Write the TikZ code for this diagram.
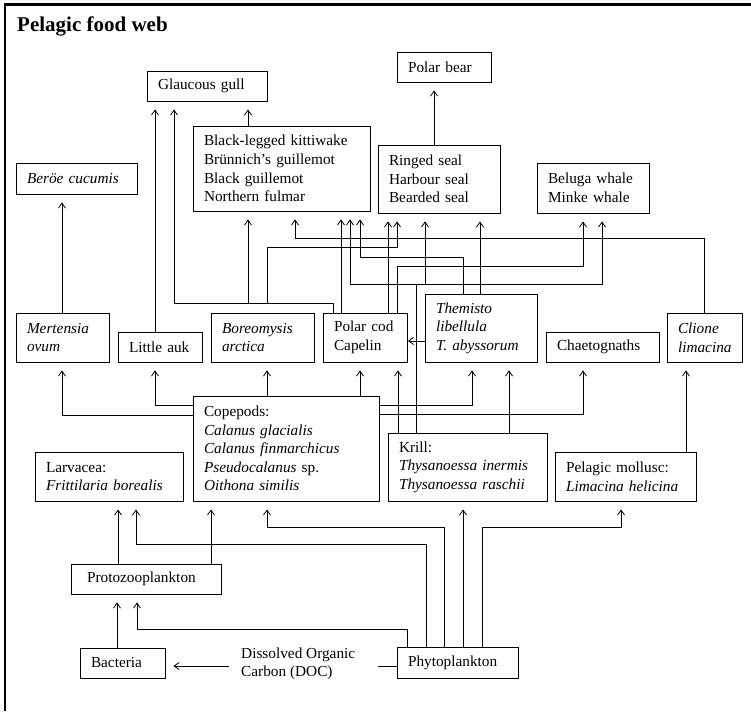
\documentclass[tikz,border=0pt]{standalone}
\usepackage{fontspec}
\setmainfont{Liberation Serif}
\usetikzlibrary{arrows.meta,calc}
\newcommand{\fsz}{\fontsize{15.3}{18.6}\selectfont}
\begin{document}
\begin{tikzpicture}[x=1pt,y=-1pt,
  box/.style={draw, line width=0.8pt, inner xsep=11pt, inner ysep=1pt, align=left, font=\fsz},
  sz/.style 2 args={text width=#1pt, minimum height=#2pt},
  arr/.style={line width=0.8pt, -{Straight Barb[length=5pt,width=7pt]}, shorten >=8pt},
  arrtouch/.style={line width=0.8pt, -{Straight Barb[length=5pt,width=7pt]}, shorten >=0.5pt},
  ln/.style={line width=0.8pt},
  frame/.style={line width=2.5pt, line join=miter}]
\useasboundingbox (0,0) rectangle (751,711);
\draw[frame] (5,711) -- (5,4.7) -- (751,4.7);
\node[font=\fontsize{21}{25}\selectfont\bfseries, inner sep=0pt, anchor=base west] (title) at (17,32) {Pelagic food web};

% nodes
\node[box, sz={98}{30}] (gull) at (207,86) {Glaucous gull};
\node[box, sz={72}{30}] (bear) at (444,67) {Polar bear};
\node[box, sz={155}{85}] (birds) at (281.5,168.5) {Black-legged kittiwake\\Brünnich’s guillemot\\Black guillemot\\Northern fulmar};
\node[box, sz={100}{68}] (seals) at (439,179) {Ringed seal\\Harbour seal\\Bearded seal};
\node[box, sz={90}{50}] (whales) at (593,188) {Beluga whale\\Minke whale};
\node[box, sz={99}{31}] (beroe) at (76.5,178.5) {\textit{Beröe cucumis}};
\node[box, sz={71}{49}] (mert) at (62.5,337.5) {\textit{Mertensia}\\\textit{ovum}};
\node[box, sz={62}{30}] (auk) at (160,347) {Little auk};
\node[box, sz={81}{49}] (boreo) at (262.5,337.5) {\textit{Boreomysis}\\\textit{arctica}};
\node[box, sz={62}{49}] (cod) at (365,337.5) {Polar cod\\Capelin};
\node[box, sz={90}{68}] (them) at (481,328) {\textit{Themisto}\\\textit{libellula}\\\textit{T. abyssorum}};
\node[box, sz={91}{30}] (chaet) at (602.5,347) {Chaetognaths};
\node[box, sz={53}{49}] (clione) at (704.5,337.5) {\textit{Clione}\\\textit{limacina}};
\node[box, sz={164}{105}] (cope) at (286,448.5) {Copepods:\\\textit{Calanus glacialis}\\\textit{Calanus finmarchicus}\\\textit{Pseudocalanus} sp.\\\textit{Oithona similis}};
\node[box, sz={137}{68}] (krill) at (467.5,467) {Krill:\\\textit{Thysanoessa inermis}\\\textit{Thysanoessa raschii}};
\node[box, sz={119}{49}] (moll) at (625.5,476.5) {Pelagic mollusc:\\\textit{Limacina helicina}};
\node[box, sz={126}{49}] (larv) at (109,476.5) {Larvacea:\\\textit{Frittilaria borealis}};
\node[box, sz={118}{30}, inner xsep=16pt] (proto) at (146,579) {Protozooplankton};
\node[box, sz={63}{30}] (bact) at (122.5,663) {Bacteria};
\node[box, sz={99}{31}] (phyto) at (457.5,662.5) {Phytoplankton};
\node[font=\fsz, align=left, inner sep=0pt, anchor=west] (doc) at (241,664) {Dissolved Organic\\Carbon (DOC)};

\coordinate (docL) at (229,666);
\coordinate (docR) at (378,666);
\coordinate (kj) at (416,284);
\coordinate (cj) at (248,303);
\coordinate (cj2) at (267,303);

% bottom level
\draw[arr] (117,0 |- bact.north) -- (117,0 |- proto.south);
\draw[arr] (407,0 |- phyto.north) |- (137,629) -- (137,0 |- proto.south);
\draw[ln] (phyto.west |- docR) -- (docR);
\draw[arr] (docL) -- (bact.east |- docL);
\draw[arr] (118,0 |- proto.north) -- (118,0 |- larv.south);
\draw[arr] (211,0 |- proto.north) -- (211,0 |- cope.south);
\draw[arr] (426,0 |- phyto.north) |- (136,544) -- (136,0 |- larv.south);
\draw[arr] (444,0 |- phyto.north) |- (267,527) -- (267,0 |- cope.south);
\draw[arr] (463,0 |- phyto.north) -- (463,0 |- krill.south);
\draw[arr] (482,0 |- phyto.north) |- (621,527) -- (621,0 |- moll.south);

% copepods
\draw[arr] (cope.west |- 0,415) -| (62,0 |- mert.south);
\draw[arr] (cope.west |- 0,405) -| (155,0 |- auk.south);
\draw[arr] (267,0 |- cope.north) -- (267,0 |- boreo.south);
\draw[arr] (360,0 |- cope.north) -- (360,0 |- cod.south);
\draw[arr] (cope.east |- 0,405) -| (472,0 |- them.south);
\draw[arr] (cope.east |- 0,414) -| (583,0 |- chaet.south);

% krill
\draw[arr] (398,0 |- krill.north) -- (398,0 |- cod.south);
\draw[arr] (509,0 |- krill.north) -- (509,0 |- them.south);
\draw[arr] (416,0 |- krill.north) -- (kj) -| (350,0 |- birds.south);
\draw[arr] (kj) -| (425,0 |- seals.south);
\draw[arr] (kj) -| (602,0 |- whales.south);

% mollusc, mertensia, auk
\draw[arr] (686,0 |- moll.north) -- (686,0 |- clione.south);
\draw[arr] (62,0 |- mert.north) -- (62,0 |- beroe.south);
\draw[arr] (155,0 |- auk.north) -- (155,0 |- gull.south);
\draw[arr] (248,0 |- birds.north) -- (248,0 |- gull.south);
\draw[arr] (434,0 |- seals.north) -- (434,0 |- bear.south);

% themisto
\draw[arrtouch] (them.west |- 0,341) -- (cod.east |- 0,341);
\draw[arr] (463,0 |- them.north) |- (360,257) -- (360,0 |- birds.south);
\draw[arr] (480,0 |- them.north) -- (480,0 |- seals.south);

% clione
\draw[arr] (704,0 |- clione.north) |- (295,238) -- (295,0 |- birds.south);

% polar cod
\draw[arr] (333,0 |- cod.north) |- (174,303) -- (174,0 |- gull.south);
\draw[arr] (cj) -- (248,0 |- birds.south);
\draw[arr] (cj2) |- (397,247) -- (397,0 |- seals.south);
\draw[arr] (341,0 |- cod.north) -- (341,0 |- birds.south);
\draw[arr] (388,0 |- cod.north) -- (388,0 |- seals.south);
\draw[arr] (397,0 |- cod.north) |- (583,266) -- (583,0 |- whales.south);
\end{tikzpicture}
\end{document}
